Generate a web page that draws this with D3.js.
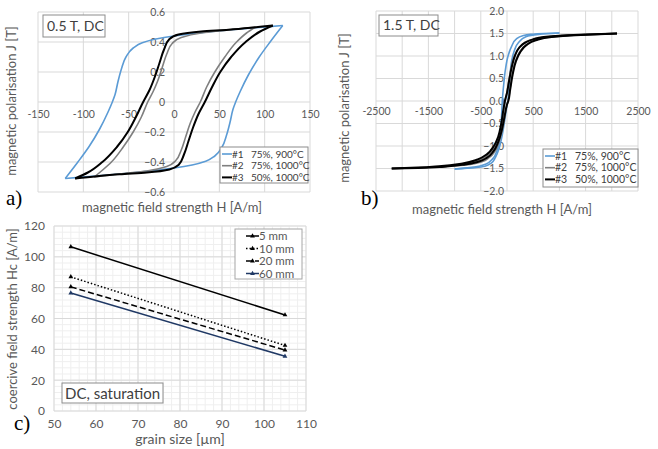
<!DOCTYPE html>
<html>
<head>
<meta charset="utf-8">
<script src="https://cdn.jsdelivr.net/npm/d3@7"></script>
<style>
body { margin: 0; background: #fff; }
text { font-family: Lato, "Open Sans", sans-serif; }
</style>
</head>
<body>
<svg id="fig" width="658" height="449"></svg>
<script>
// ---- panel a: 0.5 T DC loops, H [A/m], J [T] ----
const a1Down = [[120,0.51],[90,0.495],[60,0.48],[30,0.462],[0,0.44],[-20,0.42],[-35,0.395],[-45,0.36],[-53,0.3],[-58,0.22],[-62,0.13],[-65,0.05],[-68,0],[-73,-0.07],[-82,-0.18],[-94,-0.3],[-106,-0.4],[-120,-0.51]];
const a1Up   = [[-120,-0.51],[-90,-0.495],[-60,-0.48],[-30,-0.462],[0,-0.44],[20,-0.42],[35,-0.395],[45,-0.36],[53,-0.3],[58,-0.22],[62,-0.13],[65,-0.05],[68,0],[73,0.07],[82,0.18],[94,0.3],[106,0.4],[120,0.51]];
const a2Down = [[90,0.5],[60,0.48],[30,0.46],[8,0.43],[-2,0.39],[-8,0.32],[-13,0.23],[-18,0.14],[-23,0.07],[-29,0],[-36,-0.1],[-45,-0.2],[-56,-0.3],[-69,-0.4],[-80,-0.46],[-88,-0.5]];
const a2Up   = [[-88,-0.5],[-60,-0.48],[-30,-0.46],[-8,-0.43],[2,-0.39],[8,-0.32],[13,-0.23],[18,-0.14],[23,-0.07],[29,0],[36,0.1],[45,0.2],[56,0.3],[69,0.4],[80,0.46],[90,0.5]];
const a3Down = [[109,0.51],[85,0.495],[60,0.482],[30,0.47],[5,0.45],[-5,0.42],[-11,0.35],[-16,0.26],[-21,0.17],[-27,0.08],[-34,0],[-42,-0.1],[-51,-0.2],[-63,-0.3],[-79,-0.4],[-95,-0.47],[-109,-0.51]];
const a3Up   = [[-109,-0.51],[-85,-0.495],[-60,-0.482],[-30,-0.47],[-5,-0.45],[5,-0.42],[11,-0.35],[16,-0.26],[21,-0.17],[27,-0.08],[34,0],[42,0.1],[51,0.2],[63,0.3],[79,0.4],[95,0.47],[109,0.51]];

// ---- panel b: 1.5 T DC loops ----
const b1Down = [[1000,1.51],[700,1.5],[450,1.48],[300,1.45],[180,1.38],[90,1.22],[20,1.0],[-30,0.7],[-60,0.4],[-80,0.15],[-90,0],[-100,-0.25],[-115,-0.55],[-140,-0.85],[-190,-1.1],[-270,-1.28],[-400,-1.4],[-620,-1.47],[-1000,-1.51]];
const b1Up   = [[-1000,-1.51],[-620,-1.48],[-420,-1.45],[-300,-1.38],[-220,-1.25],[-150,-1.05],[-90,-0.75],[-40,-0.4],[0,-0.1],[15,0],[40,0.3],[60,0.6],[90,0.9],[140,1.12],[220,1.3],[360,1.43],[600,1.48],[1000,1.51]];
const b2Down = [[1200,1.46],[900,1.44],[650,1.41],[450,1.36],[320,1.28],[210,1.15],[140,1.0],[80,0.75],[35,0.45],[0,0.2],[-35,0],[-60,-0.2],[-95,-0.5],[-150,-0.8],[-220,-1.0],[-330,-1.17],[-500,-1.3],[-750,-1.39],[-1000,-1.43],[-1220,-1.46]];
const b2Up   = [[-1220,-1.46],[-950,-1.44],[-700,-1.41],[-480,-1.35],[-340,-1.26],[-230,-1.12],[-155,-0.92],[-90,-0.65],[-35,-0.3],[0,-0.08],[20,0],[55,0.25],[100,0.6],[160,0.88],[235,1.08],[340,1.23],[500,1.34],[750,1.41],[1000,1.44],[1200,1.46]];
const b3Down = [[2100,1.5],[1500,1.48],[1000,1.45],[700,1.42],[500,1.37],[350,1.3],[230,1.18],[150,1.0],[90,0.75],[40,0.45],[0,0.18],[-40,0],[-70,-0.2],[-110,-0.5],[-170,-0.8],[-250,-1.0],[-380,-1.18],[-560,-1.3],[-850,-1.39],[-1300,-1.45],[-1700,-1.48],[-2200,-1.5]];
const b3Up   = [[-2200,-1.5],[-1700,-1.49],[-1200,-1.46],[-800,-1.41],[-550,-1.35],[-380,-1.26],[-260,-1.12],[-170,-0.92],[-100,-0.65],[-40,-0.3],[0,-0.08],[25,0],[60,0.25],[110,0.6],[170,0.88],[250,1.08],[370,1.24],[550,1.35],[850,1.42],[1300,1.46],[2100,1.5]];

const sampleNames = ["#1", "#2", "#3"];
const sampleInfo = ["75%, 900°C", "75%, 1000°C", "50%, 1000°C"];

// ---- panel c: coercive field vs grain size ----
const grainSize = [54, 105];
const hc5mm  = [106.5, 62.3];
const hc10mm = [87, 42.5];
const hc20mm = [80.5, 39.5];
const hc60mm = [76.5, 35.5];
const widthNames = ["5 mm", "10 mm", "20 mm", "60 mm"];

const xTicksA = [-150,-100,-50,0,50,100,150];
const yTicksA = [-0.6,-0.4,-0.2,0,0.2,0.4,0.6];
const xTicksB = [-2500,-1500,-500,500,1500,2500];
const yTicksB = [-2,-1.5,-1,-0.5,0,0.5,1,1.5,2];
const xTicksC = [50,60,70,80,90,100,110];
const yTicksC = [0,20,40,60,80,100,120];

const svg = d3.select("#fig");
const grey = "#595959";
const loopColors = ["#5b9bd5", "#7f7f7f", "#000000"];
const loopWidths = [1.6, 1.6, 2];

function hysteresis(o) {
  const x = d3.scaleLinear().domain(o.xDom).range(o.xRange);
  const y = d3.scaleLinear().domain(o.yDom).range(o.yRange);
  const g = svg.append("g");

  // grid
  g.selectAll(".vg").data(o.xGrid).enter().append("line")
    .attr("x1", d => x(d)).attr("x2", d => x(d))
    .attr("y1", o.yRange[0]).attr("y2", o.yRange[1])
    .attr("stroke", "#d9d9d9").attr("stroke-width", 1);
  g.selectAll(".hg").data(o.yGrid).enter().append("line")
    .attr("x1", o.xRange[0]).attr("x2", o.xRange[1])
    .attr("y1", d => y(d)).attr("y2", d => y(d))
    .attr("stroke", "#d9d9d9").attr("stroke-width", 1);

  // axes crossing at zero
  const xa = g.append("g").attr("transform", `translate(0,${y(0)})`)
    .call(d3.axisBottom(x).tickValues(o.xTicks).tickSize(0).tickPadding(o.xPad).tickFormat(o.xFmt));
  const ya = g.append("g").attr("transform", `translate(${x(0)},0)`)
    .call(d3.axisLeft(y).tickValues(o.yTicks).tickSize(0).tickPadding(o.yPad).tickFormat(o.yFmt));
  [xa, ya].forEach(a => {
    a.select(".domain").remove();
    a.selectAll("text").attr("fill", grey).style("font-size", "10.5px").style("font-family", "Lato, sans-serif");
  });

  // loops: each branch is monotone in J, so interpolate along J
  const line = d3.line().x(d => x(d[0])).y(d => y(d[1])).curve(d3.curveMonotoneY);
  o.loops.forEach((branches, i) => {
    branches.forEach(b => {
      const pts = b.slice().sort((p, q) => q[1] - p[1]);
      g.append("path").attr("d", line(pts)).attr("fill", "none")
        .attr("stroke", loopColors[i]).attr("stroke-width", loopWidths[i])
        .attr("stroke-linejoin", "round");
    });
  });

  // titles
  g.append("text").attr("x", o.xTitle[0]).attr("y", o.xTitle[1]).attr("text-anchor", "middle")
    .attr("fill", grey).style("font-size", "13px").text("magnetic field strength H [A/m]");
  g.append("text").attr("transform", `translate(${o.yTitle[0]},${o.yTitle[1]}) rotate(-90)`)
    .attr("text-anchor", "middle").attr("fill", grey).style("font-size", "13px")
    .text("magnetic polarisation J [T]");

  // label box
  g.append("rect").attr("x", o.box[0]).attr("y", o.box[1]).attr("width", o.box[2]).attr("height", o.box[3])
    .attr("fill", "#fff").attr("stroke", "#8c8c8c");
  g.append("text").attr("x", o.box[0] + 4).attr("y", o.box[1] + o.box[3] - 6)
    .attr("fill", "#404040").style("font-size", "14px").text(o.boxText);

  // legend
  const L = o.legend;
  g.append("rect").attr("x", L[0]).attr("y", L[1]).attr("width", L[2]).attr("height", L[3])
    .attr("fill", "#fff").attr("stroke", "#8c8c8c");
  sampleNames.forEach((nm, i) => {
    const yy = L[1] + 7 + i * L[4];
    g.append("line").attr("x1", L[0] + 2).attr("x2", L[0] + 12).attr("y1", yy).attr("y2", yy)
      .attr("stroke", loopColors[i]).attr("stroke-width", loopWidths[i]);
    g.append("text").attr("x", L[0] + 12).attr("y", yy + 3.5).attr("fill", "#404040")
      .style("font-size", o.legFont).text(nm);
    g.append("text").attr("x", L[0] + L[5]).attr("y", yy + 3.5).attr("fill", "#404040")
      .style("font-size", o.legFont).text(sampleInfo[i]);
  });

  // panel letter
  g.append("text").attr("x", o.letter[0]).attr("y", o.letter[1])
    .style("font-family", "'Liberation Serif', 'DejaVu Serif', serif").style("font-size", "21px")
    .attr("fill", "#000").text(o.letterText);
}

hysteresis({
  xDom: [-150, 150], xRange: [38, 310], yDom: [-0.6, 0.6], yRange: [192, 12],
  xGrid: xTicksA, yGrid: yTicksA, xTicks: xTicksA, yTicks: yTicksA,
  xFmt: d => d, yFmt: d => (d === 0 ? "0" : d3.format(".1f")(d)),
  xPad: 9, yPad: 9,
  loops: [[a1Down, a1Up], [a2Down, a2Up], [a3Down, a3Up]],
  xTitle: [172, 212], yTitle: [16, 101],
  box: [43, 15, 62, 22], boxText: "0.5 T, DC",
  legend: [220, 147, 88, 36, 11.7, 31], legFont: "10px",
  letter: [6, 205], letterText: "a)"
});

hysteresis({
  xDom: [-2500, 2500], xRange: [376, 638], yDom: [-2, 2], yRange: [191, 11],
  xGrid: [-2500,-2000,-1500,-1000,-500,0,500,1000,1500,2000,2500], yGrid: yTicksB,
  xTicks: xTicksB, yTicks: yTicksB,
  xFmt: d => d, yFmt: d3.format(".1f"),
  xPad: 7, yPad: 3,
  loops: [[b1Down, b1Up], [b2Down, b2Up], [b3Down, b3Up]],
  xTitle: [502, 214], yTitle: [349, 108],
  box: [379, 15, 59, 21], boxText: "1.5 T, DC",
  legend: [543, 149, 95, 38, 11.7, 32], legFont: "10.5px",
  letter: [361, 205], letterText: "b)"
});

// ---- panel c ----
(function () {
  const x = d3.scaleLinear().domain([50, 110]).range([54, 306]);
  const y = d3.scaleLinear().domain([0, 120]).range([411, 226]);
  const g = svg.append("g");
  const minorX = d3.range(50, 110.1, 2);
  const minorY = d3.range(0, 120.1, 4);
  g.selectAll(".mx").data(minorX).enter().append("line")
    .attr("x1", d => x(d)).attr("x2", d => x(d)).attr("y1", 411).attr("y2", 226)
    .attr("stroke", "#efefef");
  g.selectAll(".my").data(minorY).enter().append("line")
    .attr("y1", d => y(d)).attr("y2", d => y(d)).attr("x1", 54).attr("x2", 306)
    .attr("stroke", "#efefef");
  g.selectAll(".Mx").data(xTicksC).enter().append("line")
    .attr("x1", d => x(d)).attr("x2", d => x(d)).attr("y1", 411).attr("y2", 226)
    .attr("stroke", "#d9d9d9");
  g.selectAll(".My").data(yTicksC).enter().append("line")
    .attr("y1", d => y(d)).attr("y2", d => y(d)).attr("x1", 54).attr("x2", 306)
    .attr("stroke", "#d9d9d9");

  const xa = g.append("g").attr("transform", "translate(0,411)")
    .call(d3.axisBottom(x).tickValues(xTicksC).tickSize(0).tickPadding(8));
  const ya = g.append("g").attr("transform", "translate(54,0)")
    .call(d3.axisLeft(y).tickValues(yTicksC).tickSize(0).tickPadding(9));
  [xa, ya].forEach(a => {
    a.select(".domain").remove();
    a.selectAll("text").attr("fill", grey).style("font-size", "12px").style("font-family", "Lato, sans-serif");
  });

  const series = [hc5mm, hc10mm, hc20mm, hc60mm];
  const cols = ["#000", "#000", "#000", "#1f3864"];
  const dash = [null, "1.5,2", "6,3", null];
  const line = d3.line().x(d => x(d[0])).y(d => y(d[1]));
  const tri = d3.symbol().type(d3.symbolTriangle).size(10);
  series.forEach((s, i) => {
    const pts = grainSize.map((gs, k) => [gs, s[k]]);
    g.append("path").attr("d", line(pts)).attr("fill", "none")
      .attr("stroke", cols[i]).attr("stroke-width", 1.5).attr("stroke-dasharray", dash[i]);
    g.selectAll(null).data(pts).enter().append("path").attr("d", tri)
      .attr("transform", d => `translate(${x(d[0])},${y(d[1])})`).attr("fill", cols[i]);
  });

  // legend
  g.append("rect").attr("x", 235).attr("y", 229).attr("width", 67).attr("height", 50)
    .attr("fill", "#fff").attr("stroke", "#a6a6a6");
  widthNames.forEach((nm, i) => {
    const yy = 236 + i * 12.5;
    g.append("line").attr("x1", 246).attr("x2", 259).attr("y1", yy).attr("y2", yy)
      .attr("stroke", cols[i]).attr("stroke-width", 1.5).attr("stroke-dasharray", dash[i]);
    g.append("path").attr("d", tri).attr("transform", `translate(252.5,${yy})`).attr("fill", cols[i]);
    g.append("text").attr("x", 259).attr("y", yy + 4).attr("fill", grey).style("font-size", "11.5px").text(nm);
  });

  g.append("rect").attr("x", 62).attr("y", 383).attr("width", 101).attr("height", 20)
    .attr("fill", "#fff").attr("stroke", "#8c8c8c");
  g.append("text").attr("x", 65).attr("y", 398.5).attr("fill", "#404040").style("font-size", "15px").text("DC, saturation");

  g.append("text").attr("x", 180).attr("y", 444).attr("text-anchor", "middle").attr("fill", grey)
    .style("font-size", "14px").text("grain size [µm]");
  g.append("text").attr("transform", "translate(17,319) rotate(-90)").attr("text-anchor", "middle")
    .attr("fill", grey).style("font-size", "13px").text("coercive field strength Hc [A/m]");

  g.append("text").attr("x", 14).attr("y", 430)
    .style("font-family", "'Liberation Serif', 'DejaVu Serif', serif").style("font-size", "21px")
    .attr("fill", "#000").text("c)");
})();
</script>
</body>
</html>
